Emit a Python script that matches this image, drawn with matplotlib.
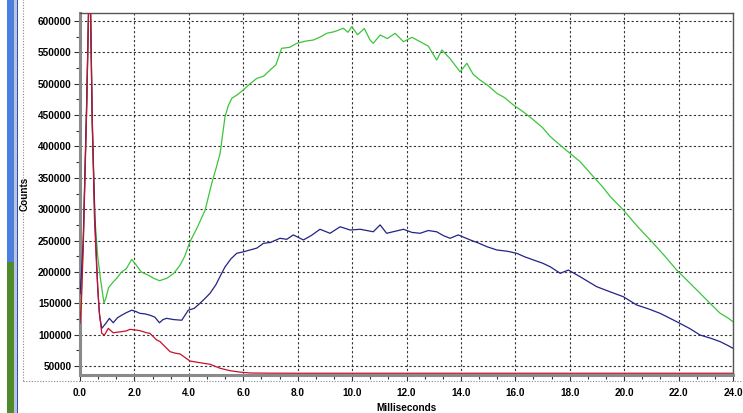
import matplotlib
matplotlib.use("Agg")
import matplotlib.pyplot as plt
from matplotlib.ticker import MultipleLocator, FixedLocator, FuncFormatter
from matplotlib.patches import Rectangle

# ---- data ----
green_ms = [0.0, 0.05, 0.12, 0.25, 0.33, 0.38, 0.45, 0.55, 0.65, 0.75, 0.88, 0.95, 1.05, 1.2, 1.35, 1.53,
            1.7, 1.9, 2.05, 2.25, 2.5, 2.7, 2.92, 3.2, 3.45, 3.68, 3.85, 4.04, 4.3, 4.6, 4.84, 5.0, 5.15,
            5.33, 5.45, 5.58, 5.8, 6.0, 6.25, 6.5, 6.75, 6.99, 7.2, 7.41, 7.7, 7.97, 8.3, 8.58, 8.85,
            9.07, 9.35, 9.68, 9.85, 9.99, 10.2, 10.45, 10.66, 10.78, 11.03, 11.3, 11.58, 11.89, 12.2,
            12.5, 12.8, 13.11, 13.3, 13.6, 13.97, 14.22, 14.45, 14.7, 15.0, 15.32, 15.6, 15.93, 16.3,
            16.67, 17.0, 17.28, 17.65, 18.01, 18.38, 18.87, 19.2, 19.49, 19.97, 20.5, 21.07, 21.5,
            21.93, 22.35, 22.79, 23.2, 23.53, 23.8, 24.0]
green_val = [128000, 160000, 255000, 470000, 650000, 640000, 430000, 285000, 225000, 190000, 150500,
             158000, 175000, 183000, 190000, 200000, 205000, 220000, 212000, 200000, 195000, 190000,
             186000, 190000, 198000, 211000, 225000, 248000, 270000, 298700, 341000, 365000, 389000,
             447500, 465000, 476800, 483000, 490000, 500000, 508600, 512000, 522000, 530000, 556500,
             558000, 564500, 568000, 569700, 575000, 580400, 583000, 588400, 582000, 591000, 578000,
             588000, 569700, 564500, 577700, 572000, 580400, 567000, 574000, 567000, 560000, 537800,
             553800, 540000, 519000, 532600, 515000, 506000, 497000, 484700, 478000, 466000, 455000,
             442200, 430000, 416000, 402000, 389000, 375700, 351800, 336000, 320000, 298700, 272000,
             245600, 225000, 203000, 185000, 166000, 148000, 134000, 127000, 120700]

blue_ms = [0.0, 0.05, 0.12, 0.25, 0.33, 0.38, 0.45, 0.55, 0.65, 0.72, 0.8, 0.95, 1.08, 1.22, 1.38, 1.53,
           1.7, 1.9, 2.05, 2.2, 2.4, 2.57, 2.75, 2.92, 3.05, 3.18, 3.45, 3.74, 3.98, 4.2, 4.41, 4.6,
           4.78, 5.0, 5.15, 5.33, 5.55, 5.76, 6.0, 6.25, 6.5, 6.74, 7.0, 7.35, 7.6, 7.84, 8.21, 8.5,
           8.82, 9.19, 9.56, 9.93, 10.3, 10.78, 11.03, 11.27, 11.6, 11.89, 12.2, 12.5, 12.8, 13.11,
           13.35, 13.6, 13.9, 14.34, 14.65, 14.95, 15.32, 15.7, 16.05, 16.35, 16.67, 17.0, 17.28,
           17.65, 17.95, 18.38, 18.7, 18.99, 19.5, 19.97, 20.46, 20.9, 21.32, 21.93, 22.4, 22.79,
           23.2, 23.53, 23.8, 24.0]
blue_val = [165000, 195000, 250000, 480000, 650000, 640000, 440000, 280000, 175000, 130000, 110000,
            118000, 126000, 119000, 127000, 131000, 135000, 139000, 137000, 134000, 133000, 131000,
            128000, 119000, 124000, 126000, 124000, 123000, 139000, 142000, 150000, 158000, 166000,
            180000, 193000, 208000, 221000, 229700, 232000, 235000, 238000, 245600, 247000, 253600,
            252000, 259000, 251000, 258000, 268000, 261600, 272000, 266800, 268000, 264000, 275000,
            261600, 265000, 268000, 263000, 261600, 266000, 264000, 258000, 253600, 259000, 251000,
            246000, 240300, 235000, 233000, 229700, 224000, 219000, 214000, 208300, 197800, 203000,
            192400, 184000, 176500, 168000, 160500, 147300, 141000, 134000, 120700, 110000, 99400,
            94000, 88800, 83000, 78300]

red_ms = [0.0, 0.05, 0.12, 0.25, 0.33, 0.38, 0.45, 0.53, 0.61, 0.7, 0.8, 0.9, 1.04, 1.22, 1.38, 1.53,
          1.7, 1.84, 2.05, 2.2, 2.45, 2.57, 2.82, 2.94, 3.1, 3.31, 3.5, 3.68, 4.04, 4.41, 4.78, 5.15,
          5.51, 5.9, 6.25, 7.0, 8.0, 10.0, 12.0, 14.0, 16.0, 18.0, 20.0, 22.0, 24.0]
red_val = [118000, 150000, 240000, 470000, 650000, 640000, 447000, 288000, 208000, 140000, 102000,
           99400, 110000, 103000, 104000, 104800, 106000, 108500, 107400, 106400, 103000, 102000,
           91500, 89000, 82000, 72900, 70500, 69200, 58000, 55300, 52800, 46400, 42600, 40200,
           38900, 38600, 38500, 38500, 38500, 38500, 38500, 38500, 38500, 38500, 38500]

y_major = [50000, 100000, 150000, 200000, 250000, 300000, 350000, 400000, 450000, 500000, 550000, 600000]
x_major = [0, 2, 4, 6, 8, 10, 12, 14, 16, 18, 20, 22, 24]

W, H = 743, 413
fig = plt.figure(figsize=(W / 100, H / 100), dpi=100)
fig.patch.set_facecolor("white")

# left desktop strip decoration
def frect(x0, y0, w, h, color, **kw):
    fig.patches.append(Rectangle((x0 / W, 1 - (y0 + h) / H), w / W, h / H, transform=fig.transFigure,
                                 facecolor=color, edgecolor="none", **kw))
frect(7, 0, 7, 262, "#4a7fe0")
frect(7, 262, 7, 151, "#4f8a2c")
frect(14, 0, 2.5, 413, "#b9c6dc")
frect(16.5, 0, 1.2, 413, "#2f4fb8")
fig.patches.append(Rectangle((23 / W, 1 - 381 / H), 800 / W, 400 / H, transform=fig.transFigure,
                             facecolor="none", edgecolor="#888888", linestyle=(0, (1, 1.5)), lw=0.8))

ax = fig.add_axes([80 / W, 1 - 375 / H, (733 - 80) / W, (375 - 13) / H])
ax.set_facecolor("white")

lw = 0.9
ax.plot(green_ms, green_val, color="#3cc43c", lw=lw, zorder=3)
ax.plot(blue_ms, blue_val, color="#232385", lw=lw, zorder=4)
ax.plot(red_ms, red_val, color="#c8102e", lw=lw, zorder=5)

ax.set_xlim(0, 24)
ax.set_ylim(35700, 612750)

ax.xaxis.set_major_locator(FixedLocator(x_major))
ax.xaxis.set_minor_locator(MultipleLocator(2 / 3))
ax.yaxis.set_major_locator(FixedLocator(y_major))
ax.yaxis.set_minor_locator(MultipleLocator(25000))
ax.xaxis.set_major_formatter(FuncFormatter(lambda v, p: f"{v:.1f}"))
ax.yaxis.set_major_formatter(FuncFormatter(lambda v, p: f"{int(v)}"))

font = dict(family="Liberation Sans", weight="bold", size=7)
for lab in ax.get_xticklabels() + ax.get_yticklabels():
    lab.set_fontfamily("Liberation Sans")
    lab.set_fontweight("bold")
    lab.set_fontsize(7.2)

ax.tick_params(axis="both", which="major", direction="out", length=4, width=0.8, color="#333333", pad=2)
ax.tick_params(axis="both", which="minor", direction="out", length=3, width=0.8, color="#333333")
ax.tick_params(axis="x", pad=5)

ax.grid(True, which="major", color="#333333", linestyle=(0, (2, 2)), linewidth=0.8, zorder=1)
ax.set_axisbelow(True)

for s in ("top", "right"):
    ax.spines[s].set_color("#555555")
    ax.spines[s].set_linewidth(1.0)
for s in ("left", "bottom"):
    ax.spines[s].set_color("#8a8a8a")
    ax.spines[s].set_linewidth(2.2)

ax.set_xlabel("Milliseconds", fontfamily="Liberation Sans", fontweight="bold", fontsize=7.2, labelpad=4)
ax.set_ylabel("Counts", fontfamily="Liberation Sans", fontweight="bold", fontsize=7.2, labelpad=6)

fig.savefig("out.png", dpi=100)
